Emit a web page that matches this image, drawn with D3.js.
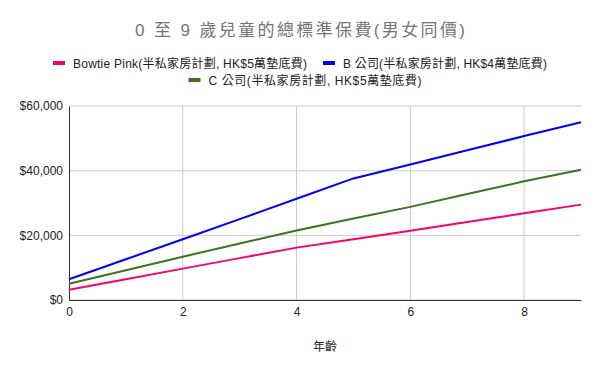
<!DOCTYPE html>
<html>
<head>
<meta charset="utf-8">
<script src="https://cdn.jsdelivr.net/npm/d3@7"></script>
<style>
  body { margin: 0; background: #fff; }
  text { font-family: Arial, "Liberation Sans", "Noto Sans CJK TC", sans-serif; }
</style>
</head>
<body>
<div id="chart"></div>
<script>
// ages 0..9
var ages = [0, 1, 2, 3, 4, 5, 6, 7, 8, 9];
var bowtie = [3200, 6450, 9700, 12950, 16200, 18800, 21400, 24100, 26800, 29500];
var companyB = [6400, 12600, 18800, 25000, 31300, 37600, 41900, 46300, 50700, 55000];
var companyC = [5000, 9200, 13400, 17500, 21500, 25200, 28800, 32800, 36700, 40300];
var seriesNames = [
    "Bowtie Pink(半私家房計劃, HK$5萬墊底費)",
    "B 公司(半私家房計劃, HK$4萬墊底費)",
    "C 公司(半私家房計劃, HK$5萬墊底費)"
];
var seriesColors = ["#ff0066", "#0000ff", "#38761d"];
var yTicks = [0, 20000, 40000, 60000];
var xTicks = [0, 2, 4, 6, 8];

var width = 600;
var height = 371;
var margin = { top: 106, right: 19, bottom: 71, left: 69 };

var svg = d3.select("#chart").append("svg")
    .attr("width", width)
    .attr("height", height);

var x = d3.scaleLinear()
    .domain([0, 9])
    .range([margin.left, width - margin.right]);

var y = d3.scaleLinear()
    .domain([0, 60000])
    .range([height - margin.bottom, margin.top]);

// title
svg.append("text")
    .attr("x", 300)
    .attr("y", 36)
    .attr("text-anchor", "middle")
    .attr("textLength", 330)
    .attr("lengthAdjust", "spacing")
    .style("font-size", "17px")
    .style("fill", "#757575")
    .text("0 至 9 歲兒童的總標準保費(男女同價)");

// gridlines
svg.append("g")
    .selectAll("line")
    .data(yTicks)
    .enter().append("line")
    .attr("x1", x(0))
    .attr("x2", x(9))
    .attr("y1", d => y(d))
    .attr("y2", d => y(d))
    .style("stroke", "#cccccc")
    .style("stroke-width", 1);

svg.append("g")
    .selectAll("line")
    .data(xTicks.slice(1))
    .enter().append("line")
    .attr("x1", d => x(d))
    .attr("x2", d => x(d))
    .attr("y1", y(0))
    .attr("y2", y(60000))
    .style("stroke", "#cccccc")
    .style("stroke-width", 1);

// axes
var yAxis = svg.append("g")
    .attr("transform", `translate(${margin.left},0)`)
    .call(d3.axisLeft(y).tickValues(yTicks).tickSize(0).tickPadding(6)
        .tickFormat(d => "$" + d3.format(",")(d)));
yAxis.select(".domain").style("stroke", "#333333");
yAxis.selectAll("text").style("font-size", "12px").style("fill", "#222222");

var xAxis = svg.append("g")
    .attr("transform", `translate(0,${y(0)})`)
    .call(d3.axisBottom(x).tickValues(xTicks).tickSize(0).tickPadding(7));
xAxis.select(".domain").style("stroke", "#333333");
xAxis.selectAll("text").style("font-size", "12px").style("fill", "#222222");

svg.append("text")
    .attr("x", 325)
    .attr("y", 351)
    .attr("text-anchor", "middle")
    .style("font-size", "12px")
    .style("fill", "#222222")
    .text("年齡");

// lines
var line = d3.line()
    .x((d, i) => x(ages[i]))
    .y(d => y(d));

[bowtie, companyB, companyC].forEach(function (values, i) {
    svg.append("path")
        .datum(values)
        .attr("d", line)
        .style("fill", "none")
        .style("stroke", seriesColors[i])
        .style("stroke-width", 2);
});

// legend
var legendWidths = [234, 204, 213];
var rows = [[0, 1], [2]];
var rowY = [68, 85];
var rowCenter = [300, 305];
rows.forEach(function (row, r) {
    var g = svg.append("g");
    var cursor = 0;
    row.forEach(function (si, k) {
        if (k > 0) cursor += 16;
        g.append("rect")
            .attr("x", cursor)
            .attr("y", rowY[r] - 7)
            .attr("width", 12)
            .attr("height", 4)
            .style("fill", seriesColors[si]);
        g.append("text")
            .attr("x", cursor + 20)
            .attr("y", rowY[r])
            .attr("textLength", legendWidths[si])
            .attr("lengthAdjust", "spacing")
            .style("font-size", "12px")
            .style("fill", "#222222")
            .text(seriesNames[si]);
        cursor += 20 + legendWidths[si];
    });
    g.attr("transform", `translate(${rowCenter[r] - cursor / 2},0)`);
});
</script>
</body>
</html>
